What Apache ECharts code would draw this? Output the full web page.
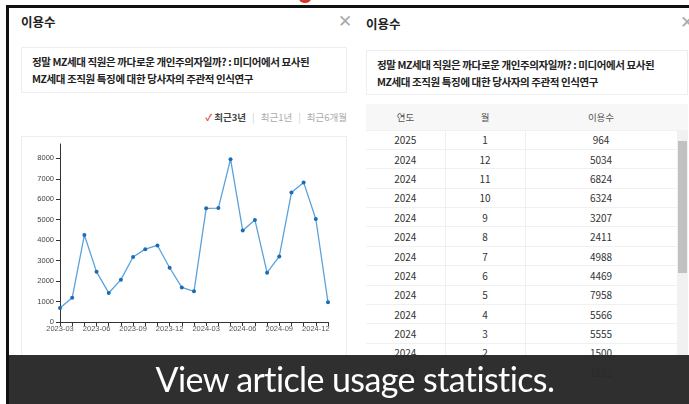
<!DOCTYPE html>
<html>
<head>
<meta charset="utf-8">
<script src="https://cdn.jsdelivr.net/npm/echarts@6/dist/echarts.min.js"></script>
<style>
  * { box-sizing: border-box; }
  body { margin: 0; width: 689px; height: 404px; overflow: hidden; background: #fff;
         font-family: "Noto Sans CJK KR", "Noto Sans", sans-serif; position: relative; }
  .abs { position: absolute; }
  .frame-top { left: 7px; top: 5px; width: 682px; height: 3px; background: #111; }
  .frame-left { left: 6px; top: 5px; width: 3px; height: 399px; background: #111; }
  .dot { left: 299px; top: -6px; width: 12px; height: 9px; border-radius: 50%; background: #d9342b; }
  .ttl { font-size: 12.5px; font-weight: 700; color: #222; }
  .close { font-size: 17px; color: #aaa; font-weight: 300; line-height: 1; }
  .box { border: 1px solid #eceef0; background: #fff; }
  .paper { font-size: 10.5px; font-weight: 700; color: #222; line-height: 17px; padding: 5px 0 0 10px; letter-spacing: -0.4px; }
  .filter { font-size: 9.5px; color: #aaa; white-space: nowrap; }
  .filter b { color: #444; }
  .filter .sep { color: #ccc; margin: 0 6px; }
  .filter .chk { color: #e0454c; font-weight: 700; }
  table { border-collapse: collapse; font-size: 10px; color: #333; table-layout: fixed; }
  td, th { text-align: center; border-bottom: 1px solid #f0f0f0; padding: 0; }
  th { font-weight: 400; color: #555; background: #f7f7f7; height: 26px; font-size: 9.5px; }
  td { height: 19.4px; border-right: 1px solid #f0f0f0; }
  td:last-child { border-right: none; }
  .sb { left: 677px; top: 130px; width: 11px; height: 260px; background: #f1f1f1; }
  .thumb { left: 678px; top: 141px; width: 9px; height: 132px; background: #c1c1c1; }
  .caption { left: 9px; top: 355px; width: 680px; height: 49px; background: rgba(40,40,40,0.97);
             color: #fff; font-family: "Lato", sans-serif; font-size: 34px; text-align: center;
             line-height: 47px; letter-spacing: -0.6px; padding-left: 12px; }
</style>
</head>
<body>
<div class="abs frame-top"></div>
<div class="abs frame-left"></div>
<div class="abs dot"></div>

<!-- left panel -->
<div class="abs ttl" style="left:21px; top:12px;">이용수</div>
<div class="abs close" style="left:338px; top:11px;">&#x2715;</div>
<div class="abs box paper" style="left:21px; top:47px; width:326px; height:46px;">
  정말 MZ세대 직원은 까다로운 개인주의자일까? : 미디어에서 묘사된<br>MZ세대 조직원 특징에 대한 당사자의 주관적 인식연구
</div>
<div class="abs filter" style="right:342px; top:110px;">
  <span class="chk">&#x2713;</span> <b>최근3년</b><span class="sep">|</span>최근1년<span class="sep">|</span>최근6개월
</div>
<div class="abs box" style="left:21px; top:136px; width:326px; height:230px;">
  <div id="chart" style="width:324px; height:219px;"></div>
</div>

<!-- right panel -->
<div class="abs ttl" style="left:366px; top:14px;">이용수</div>
<div class="abs close" style="left:680px; top:12px;">&#x2715;</div>
<div class="abs box paper" style="left:366px; top:50px; width:322px; height:45px;">
  정말 MZ세대 직원은 까다로운 개인주의자일까? : 미디어에서 묘사된<br>MZ세대 조직원 특징에 대한 당사자의 주관적 인식연구
</div>
<div class="abs" style="left:366px; top:104px;">
  <table id="tbl">
    <colgroup><col style="width:79px"><col style="width:80px"><col style="width:152px"><col style="width:11px"></colgroup>
    <thead><tr><th>연도</th><th>월</th><th>이용수</th><th></th></tr></thead>
    <tbody></tbody>
  </table>
</div>
<div class="abs sb"></div>
<div class="abs thumb"></div>

<div class="abs caption">View article usage statistics.</div>

<script>
// 월별 이용수 (2023-03 ~ 2025-01)
const months = ['2023-03','2023-04','2023-05','2023-06','2023-07','2023-08','2023-09','2023-10','2023-11','2023-12',
                '2024-01','2024-02','2024-03','2024-04','2024-05','2024-06','2024-07','2024-08','2024-09','2024-10','2024-11','2024-12',
                '2025-01'];
const usage = [680, 1180, 4250, 2450, 1420, 2070, 3180, 3560, 3740, 2650,
               1692, 1500, 5555, 5566, 7958, 4469, 4988, 2411, 3207, 6324, 6824, 5034,
               964];
const yTicks = [0, 1000, 2000, 3000, 4000, 5000, 6000, 7000, 8000];
const xLabels = ['2023-03', '2023-06', '2023-09', '2023-12', '2024-03', '2024-06', '2024-09', '2024-12'];
const tableRows = 13;

// 표 채우기 (최신순)
const tbody = document.querySelector('#tbl tbody');
for (let i = 0; i < tableRows; i++) {
  const k = months.length - 1 - i;
  const [y, m] = months[k].split('-');
  const tr = document.createElement('tr');
  tr.innerHTML = '<td>' + y + '</td><td>' + parseInt(m, 10) + '</td><td>' + usage[k] + '</td><td style="border:none"></td>';
  tbody.appendChild(tr);
}

const chart = echarts.init(document.getElementById('chart'));
let option = {
  animation: false,
  grid: { left: 38, right: 18, top: 7, bottom: 34 },
  xAxis: {
    type: 'category',
    data: months,
    boundaryGap: false,
    axisLine: { lineStyle: { color: '#333', width: 1 } },
    axisTick: { interval: 0, length: 4, lineStyle: { color: '#333' } },
    axisLabel: {
      interval: (idx, val) => xLabels.indexOf(val) >= 0,
      hideOverlap: false,
      color: '#555', fontSize: 7.5, margin: 3, fontFamily: 'Liberation Sans'
    }
  },
  yAxis: {
    type: 'value',
    min: 0,
    max: 8700,
    interval: 1000,
    axisLine: { show: true, lineStyle: { color: '#333', width: 1 } },
    axisTick: { show: true, length: 4, customValues: yTicks, lineStyle: { color: '#333' } },
    axisLabel: {
      customValues: yTicks, color: '#444', fontSize: 7.5, margin: 6, fontFamily: 'Liberation Sans',
      formatter: (v) => String(v)
    },
    splitLine: { show: false }
  },
  series: [{
    type: 'line',
    data: usage,
    symbol: 'circle',
    symbolSize: 4,
    lineStyle: { color: '#5aa2dc', width: 1.3 },
    itemStyle: { color: '#1c6cb4' }
  }]
};
chart.setOption(option);
</script>
</body>
</html>
